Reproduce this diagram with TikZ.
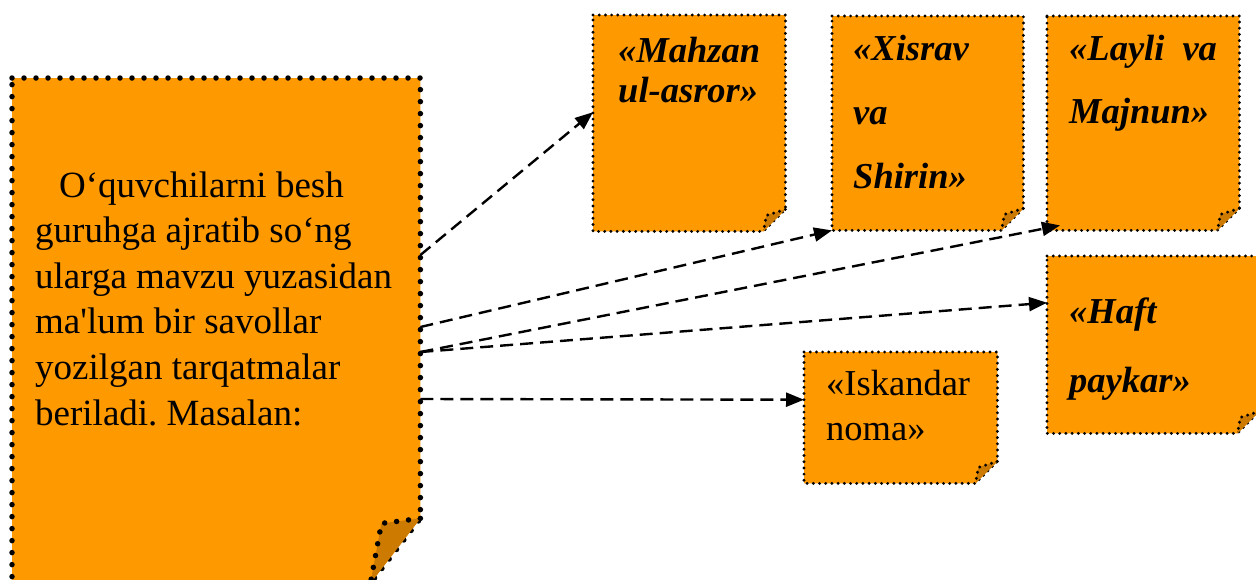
\documentclass[tikz,border=0pt]{standalone}
\usepackage{fontspec}
\setmainfont{Liberation Serif}[Ligatures=TeXOff]
\usetikzlibrary{arrows.meta,positioning}
\definecolor{noteorange}{RGB}{255,153,0}
\definecolor{notefold}{RGB}{204,122,0}
\tikzset{
  notebody/.style={fill=noteorange, draw=black, line width=3.2pt, dash pattern=on 0pt off 6.2pt, line cap=round, line join=round},
  bignote/.style={notebody, line width=5.5pt, dash pattern=on 0pt off 12pt},
  holder/.style={inner sep=0pt, anchor=north west},
  link/.style={draw, line width=2.4pt, dash pattern=on 13pt off 7pt, -{Triangle[length=18pt,width=14pt]}},
  plaintext/.style={font=\fontsize{37}{45.6}\selectfont, align=left, anchor=base west, inner sep=0pt},
  titletext/.style={plaintext, font=\fontsize{36.5}{40}\selectfont\bfseries\itshape},
}
\frenchspacing

\begin{document}
\begin{tikzpicture}[x=1pt,y=-1pt]
\useasboundingbox (0,0) rectangle (1256,579);

% the notes
\node[holder, minimum width=408pt, minimum height=505pt] (big) at (12,78) {};
\node[holder, minimum width=192pt, minimum height=216pt] (mahzan) at (593,15) {};
\node[holder, minimum width=191pt, minimum height=214pt] (xisrav) at (832,16) {};
\node[holder, minimum width=192pt, minimum height=214pt] (layli) at (1047,16) {};
\node[holder, minimum width=212pt, minimum height=177pt] (haft) at (1047,256) {};
\node[holder, minimum width=193pt, minimum height=131pt] (iskandar) at (804,352) {};

\draw[bignote] (big.north west) -- (big.north east) -- ([yshift=65pt]big.south east)
  -- ([xshift=-50pt]big.south east) -- (big.south west) -- cycle;
\draw[bignote, fill=notefold] ([yshift=65pt]big.south east) -- ([xshift=-39pt,yshift=60pt]big.south east)
  -- ([xshift=-50pt]big.south east);

\foreach \n in {mahzan,xisrav,layli,haft,iskandar}{
  \draw[notebody] (\n.north west) -- (\n.north east) -- ([yshift=22pt]\n.south east)
    -- ([xshift=-22pt]\n.south east) -- (\n.south west) -- cycle;
  \draw[notebody, fill=notefold] ([yshift=22pt]\n.south east) -- ([xshift=-19pt,yshift=16pt]\n.south east)
    -- ([xshift=-22pt]\n.south east);
}

% texts (placed at the baseline of their last line)
\node[plaintext] (task) at (35,425) {\hspace*{24pt}O‘quvchilarni besh\\guruhga ajratib so‘ng\\ularga mavzu yuzasidan\\ma'lum bir savollar\\yozilgan tarqatmalar\\beriladi. Masalan:};
\node[titletext] (mahzanlabel) at (618,102) {«Mahzan\\ul-asror»};
\node[titletext, font=\fontsize{36.5}{64}\selectfont\bfseries\itshape] (xisravlabel) at (853,188) {«Xisrav\\va\\Shirin»};
\node[titletext, font=\fontsize{36.5}{63}\selectfont\bfseries\itshape] (laylilabel) at (1069,123) {«Layli\hspace{18pt}va\\Majnun»};
\node[titletext, font=\fontsize{36.5}{69}\selectfont\bfseries\itshape] (haftlabel) at (1069,392) {«Haft\\paykar»};
\node[plaintext, font=\fontsize{36.5}{45}\selectfont] (iskandarlabel) at (826,440) {«Iskandar\\noma»};

% connectors
\coordinate (b1) at ([yshift=-177pt]big.north east);
\coordinate (b2) at ([yshift=-249pt]big.north east);
\coordinate (b3) at ([yshift=-274pt]big.north east);
\coordinate (b4) at ([yshift=-321pt]big.north east);

\draw[link] (b1) -- ([yshift=11pt]mahzan.west);
\draw[link] (b2) -- (xisrav.south west);
\draw[link] (b3) -- ([xshift=13pt,yshift=5pt]layli.south west);
\draw[link] (b3) -- ([yshift=42pt]haft.west);
\draw[link] (b4) -- ([yshift=18pt]iskandar.west);

\end{tikzpicture}
\end{document}
